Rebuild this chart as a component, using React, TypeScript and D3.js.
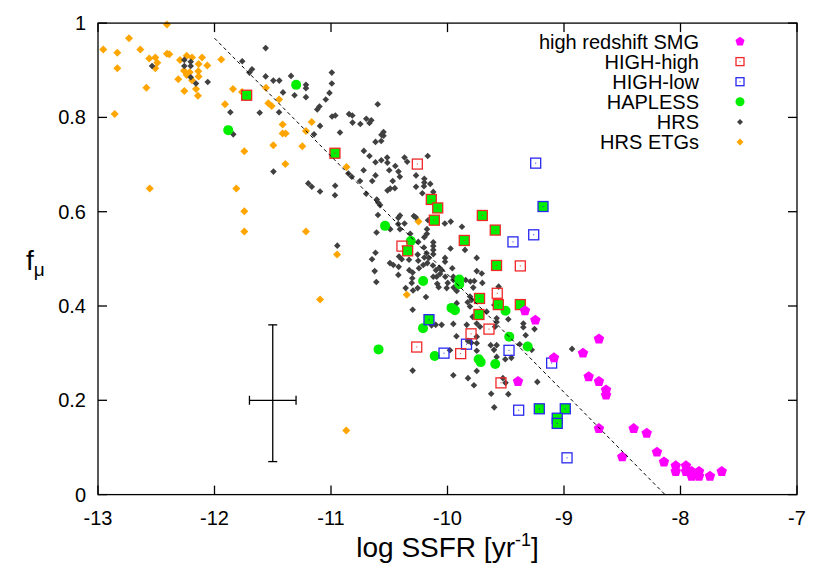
import React from "react";
import * as d3 from "d3";

type P = [number, number];

const xTicks = [-13, -12, -11, -10, -9, -8, -7];
const yTicks = [0, 0.2, 0.4, 0.6, 0.8, 1];
const yTickLabels = ["0", "0.2", "0.4", "0.6", "0.8", "1"];
const legendLabels = ["high redshift SMG", "HIGH-high", "HIGH-low", "HAPLESS", "HRS", "HRS ETGs"];

const fitX = [-12, -8.133];
const fitY = [0.968, 0];

const errCenter: P = [-11.5, 0.2];
const errXRange = [-11.7, -11.3];
const errYRange = [0.07, 0.36];

const smg: P[] = [
  [-9.335, 0.39], [-9.246, 0.37], [-8.7, 0.33], [-8.837, 0.3], [-9.086, 0.29], [-9.395, 0.24],
  [-8.788, 0.25], [-8.7, 0.24], [-8.639, 0.222], [-8.639, 0.211], [-8.7, 0.14], [-8.402, 0.14],
  [-8.29, 0.13], [-8.5, 0.08], [-8.202, 0.09], [-8.142, 0.069], [-8.041, 0.061], [-8.041, 0.049],
  [-7.953, 0.061], [-7.953, 0.049], [-7.904, 0.049], [-7.904, 0.039], [-7.841, 0.049], [-7.841, 0.039],
  [-7.747, 0.039], [-7.646, 0.049],
];

const highHigh: P[] = [
  [-10.259, 0.701], [-10.391, 0.527], [-9.375, 0.485], [-9.573, 0.427], [-9.644, 0.351],
  [-9.798, 0.341], [-9.887, 0.299], [-10.264, 0.313], [-9.541, 0.237],
];

const highLow: P[] = [
  [-9.243, 0.703], [-9.26, 0.551], [-9.438, 0.536], [-9.472, 0.306], [-9.106, 0.279],
  [-9.837, 0.319], [-10.03, 0.3], [-9.389, 0.179], [-8.974, 0.078],
];

const highHighHapless: P[] = [
  [-11.724, 0.847], [-10.966, 0.724], [-10.139, 0.626], [-10.084, 0.608], [-10.113, 0.582],
  [-9.701, 0.592], [-9.59, 0.561], [-9.856, 0.539], [-10.342, 0.517], [-9.579, 0.486],
  [-9.725, 0.416], [-9.564, 0.403], [-9.375, 0.403], [-9.73, 0.382],
];

const highLowHapless: P[] = [
  [-9.18, 0.611], [-10.159, 0.371], [-9.212, 0.182], [-8.989, 0.182], [-9.058, 0.162], [-9.058, 0.151],
];

const hapless: P[] = [
  [-11.882, 0.773], [-11.299, 0.869], [-10.536, 0.57], [-10.315, 0.538], [-10.209, 0.453],
  [-9.899, 0.456], [-9.899, 0.446], [-9.966, 0.396], [-9.936, 0.391], [-9.502, 0.39],
  [-10.21, 0.353], [-10.11, 0.294], [-9.732, 0.287], [-9.715, 0.281], [-9.59, 0.277],
  [-9.47, 0.335], [-9.312, 0.314], [-10.592, 0.308],
];

const hrs: P[] = [
  [-12.536, 0.909], [-12.259, 0.922], [-12.204, 0.918], [-12.259, 0.909], [-12.204, 0.909],
  [-12.204, 0.885], [-12.159, 0.872], [-12.058, 0.875], [-11.561, 0.947], [-11.762, 0.919],
  [-11.678, 0.902], [-11.7, 0.895], [-11.561, 0.887], [-11.495, 0.878], [-11.444, 0.878],
  [-11.343, 0.888], [-11.215, 0.869], [-11.215, 0.862], [-10.993, 0.895], [-10.993, 0.872],
  [-11.412, 0.853], [-11.313, 0.847], [-11.215, 0.843], [-11.013, 0.852], [-11.045, 0.838],
  [-11.099, 0.823], [-11.118, 0.817], [-10.991, 0.802], [-10.963, 0.804], [-11.612, 0.81],
  [-11.446, 0.811], [-11.864, 0.811], [-11.839, 0.764], [-11.094, 0.782], [-11.146, 0.764],
  [-10.923, 0.768], [-11.494, 0.685], [-11.195, 0.66], [-11.165, 0.653], [-11.094, 0.643],
  [-10.964, 0.655], [-10.966, 0.635], [-10.599, 0.828], [-10.845, 0.807], [-10.817, 0.804],
  [-10.815, 0.789], [-10.748, 0.786], [-10.697, 0.797], [-10.654, 0.794], [-10.67, 0.788],
  [-10.549, 0.769], [-10.549, 0.761], [-10.567, 0.763], [-10.618, 0.748], [-10.569, 0.75],
  [-10.718, 0.729], [-10.67, 0.718], [-10.618, 0.705], [-10.568, 0.709], [-10.518, 0.715],
  [-10.516, 0.704], [-10.72, 0.688], [-10.646, 0.665], [-10.618, 0.677], [-10.5, 0.688],
  [-10.448, 0.697], [-10.421, 0.685], [-10.369, 0.715], [-10.346, 0.706], [-10.17, 0.718],
  [-10.47, 0.665], [-10.409, 0.674], [-10.515, 0.645], [-10.492, 0.649], [-10.452, 0.65],
  [-10.27, 0.677], [-10.199, 0.67], [-10.199, 0.662], [-10.202, 0.654], [-10.148, 0.659],
  [-10.27, 0.653], [-10.216, 0.639], [-10.122, 0.642], [-10.851, 0.681], [-10.822, 0.674],
  [-10.751, 0.665], [-10.698, 0.638], [-10.607, 0.626], [-10.594, 0.619], [-10.579, 0.614],
  [-10.408, 0.592], [-10.422, 0.587], [-10.289, 0.591], [-10.597, 0.593], [-10.423, 0.574],
  [-10.408, 0.563], [-10.369, 0.575], [-10.492, 0.563], [-10.609, 0.556], [-10.167, 0.582],
  [-10.023, 0.575], [-9.972, 0.579], [-10.176, 0.563], [-10.177, 0.553], [-10.32, 0.553],
  [-10.199, 0.546], [-10.273, 0.588], [-10.322, 0.541], [-10.251, 0.536], [-10.122, 0.535],
  [-10.122, 0.527], [-10.122, 0.519], [-10.122, 0.51], [-9.974, 0.522], [-9.876, 0.568],
  [-9.85, 0.519], [-10.946, 0.528], [-10.618, 0.513], [-10.648, 0.499], [-10.416, 0.505],
  [-10.393, 0.499], [-10.256, 0.509], [-10.202, 0.524], [-10.251, 0.496], [-10.199, 0.503],
  [-10.173, 0.491], [-10.419, 0.483], [-10.494, 0.491], [-10.465, 0.487], [-10.33, 0.498],
  [-10.245, 0.48], [-10.422, 0.466], [-10.328, 0.476], [-10.299, 0.471], [-10.625, 0.474],
  [-10.611, 0.451], [-10.07, 0.481], [-10.05, 0.476], [-10.161, 0.502], [-10.125, 0.486],
  [-10.021, 0.502], [-10.021, 0.494], [-9.959, 0.48], [-10.064, 0.468], [-10.019, 0.462],
  [-9.95, 0.462], [-9.998, 0.449], [-9.947, 0.439], [-9.921, 0.432], [-10.088, 0.447],
  [-10.076, 0.44], [-9.844, 0.455], [-9.804, 0.452], [-9.77, 0.453], [-9.749, 0.474],
  [-9.706, 0.469], [-9.749, 0.502], [-9.701, 0.449], [-9.561, 0.441], [-10.307, 0.449],
  [-10.185, 0.419], [-10.296, 0.433], [-10.359, 0.438], [-10.256, 0.438], [-10.007, 0.438],
  [-9.807, 0.42], [-9.792, 0.413], [-9.779, 0.439], [-10.302, 0.459], [-10.093, 0.462],
  [-9.921, 0.406], [-9.827, 0.408], [-9.807, 0.399], [-9.784, 0.377], [-9.749, 0.385],
  [-9.664, 0.388], [-9.598, 0.402], [-9.578, 0.374], [-9.578, 0.366], [-9.478, 0.372],
  [-9.349, 0.363], [-9.349, 0.355], [-9.253, 0.351], [-9.329, 0.338], [-9.38, 0.319],
  [-9.277, 0.307], [-9.504, 0.287], [-9.452, 0.29], [-8.931, 0.309], [-9.229, 0.239],
  [-10.101, 0.36], [-10.05, 0.36], [-9.95, 0.362], [-9.749, 0.363], [-9.923, 0.336],
  [-9.749, 0.335], [-9.749, 0.321], [-9.749, 0.305], [-9.979, 0.306], [-9.629, 0.317],
  [-9.578, 0.317], [-9.601, 0.307], [-9.578, 0.292], [-9.835, 0.36], [-9.721, 0.356],
  [-9.592, 0.356], [-9.824, 0.326], [-9.796, 0.322], [-10.299, 0.392], [-10.299, 0.263],
  [-9.95, 0.253], [-9.824, 0.247], [-9.773, 0.232], [-9.749, 0.262], [-9.625, 0.214],
  [-9.599, 0.185], [-9.478, 0.213], [-9.524, 0.247], [-9.502, 0.237], [-10.179, 0.512],
  [-10.099, 0.476], [-9.95, 0.455], [-10.122, 0.462], [-10.208, 0.487], [-10.137, 0.359],
];

const hrsEtg: P[] = [
  [-12.408, 0.997], [-12.734, 0.968], [-12.955, 0.944], [-12.834, 0.937], [-12.637, 0.944],
  [-12.834, 0.904], [-12.56, 0.925], [-12.508, 0.927], [-12.491, 0.916], [-12.508, 0.904],
  [-12.408, 0.935], [-12.388, 0.934], [-12.585, 0.863], [-12.857, 0.807], [-12.556, 0.649],
  [-12.296, 0.922], [-12.239, 0.931], [-12.193, 0.927], [-12.107, 0.927], [-12.136, 0.913],
  [-12.062, 0.91], [-12.262, 0.899], [-12.213, 0.896], [-12.139, 0.898], [-12.239, 0.89],
  [-12.136, 0.887], [-12.311, 0.881], [-12.193, 0.879], [-12.159, 0.86], [-12.259, 0.856],
  [-12.142, 0.846], [-11.942, 0.923], [-11.841, 0.86], [-11.91, 0.828], [-11.764, 0.854],
  [-11.558, 0.863], [-11.538, 0.83], [-11.509, 0.824], [-11.446, 0.838], [-11.415, 0.785],
  [-11.415, 0.766], [-11.389, 0.766], [-11.166, 0.79], [-11.215, 0.771], [-11.495, 0.741],
  [-11.246, 0.739], [-11.744, 0.728], [-11.392, 0.701], [-10.867, 0.695], [-11.813, 0.649],
  [-11.744, 0.601], [-11.744, 0.558], [-11.215, 0.558], [-10.948, 0.509], [-11.094, 0.414],
  [-10.869, 0.136], [-10.249, 0.579], [-10.35, 0.424],
];

const C_SMG = "#ff00ff";
const C_RED = "#f02828";
const C_BLUE = "#2828f0";
const C_GREEN = "#00ee00";
const C_HRS = "#404040";
const C_ETG = "#ffa500";

const diamond = (r: number) => `M0,${-r}L${r},0L0,${r}L${-r},0Z`;
const pentagon = (r: number) =>
  d3.range(5).map((k) => {
    const a = ((-90 + 72 * k) * Math.PI) / 180;
    return `${k === 0 ? "M" : "L"}${(r * Math.cos(a)).toFixed(2)},${(r * Math.sin(a)).toFixed(2)}`;
  }).join("") + "Z";

export default function App() {
  const W = 830, H = 580;
  const left = 98, right = 797, top = 23.1, bottom = 494.6;
  const x = d3.scaleLinear().domain([-13, -7]).range([left, right]);
  const y = d3.scaleLinear().domain([0, 1]).range([bottom, top]);
  const font = "'Liberation Sans', Arial, Helvetica, sans-serif";
  const tick = 9;

  const lineGen = d3.line<number>().x((_, i) => x(fitX[i])).y((_, i) => y(fitY[i]));

  const openSquare = (p: P, i: number, color: string, s = 10) => (
    <g key={i} transform={`translate(${x(p[0])},${y(p[1])})`}>
      <rect x={-s / 2} y={-s / 2} width={s} height={s} fill="none" stroke={color} strokeWidth={1.3} />
      <rect x={-0.5} y={-0.5} width={1} height={1} fill={color} />
    </g>
  );
  const greenSquare = (p: P, i: number, color: string, s = 10) => (
    <g key={i} transform={`translate(${x(p[0])},${y(p[1])})`}>
      <rect x={-s / 2} y={-s / 2} width={s} height={s} fill={C_GREEN} stroke={color} strokeWidth={1.3} />
      <rect x={-0.5} y={-0.5} width={1} height={1} fill={color} />
    </g>
  );

  const legendY = (i: number) => 41.5 + i * 20.1;
  const legX = 740;

  return (
    <div style={{ position: "absolute", left: 0, top: 0 }}>
      <svg width={W} height={H} style={{ display: "block", background: "#fff" }} fontFamily={font}>
        <rect width={W} height={H} fill="#fff" />
        {/* markers */}
        <g>
          {hrsEtg.map((p, i) => (
            <path key={i} d={diamond(4)} transform={`translate(${x(p[0])},${y(p[1])})`} fill={C_ETG} />
          ))}
        </g>
        <g>
          {hrs.map((p, i) => (
            <path key={i} d={diamond(3.3)} transform={`translate(${x(p[0])},${y(p[1])})`} fill={C_HRS} />
          ))}
        </g>
        <g>
          {hapless.map((p, i) => (
            <circle key={i} cx={x(p[0])} cy={y(p[1])} r={5} fill={C_GREEN} />
          ))}
        </g>
        <g>{highLow.map((p, i) => openSquare(p, i, C_BLUE))}</g>
        <g>{highHigh.map((p, i) => openSquare(p, i, C_RED))}</g>
        <g>{highHighHapless.map((p, i) => greenSquare(p, i, C_RED))}</g>
        <g>{highLowHapless.map((p, i) => greenSquare(p, i, C_BLUE))}</g>
        <g>
          {smg.map((p, i) => (
            <path key={i} d={pentagon(5.5)} transform={`translate(${x(p[0])},${y(p[1])})`} fill={C_SMG} />
          ))}
        </g>

        {/* fit line */}
        <path d={lineGen([0, 1]) || ""} fill="none" stroke="#000" strokeWidth={1} strokeDasharray="3.5,3" />

        {/* error bar */}
        <g stroke="#000" strokeWidth={1.3}>
          <line x1={x(errCenter[0])} x2={x(errCenter[0])} y1={y(errYRange[0])} y2={y(errYRange[1])} />
          <line x1={x(errCenter[0]) - 4.5} x2={x(errCenter[0]) + 4.5} y1={y(errYRange[0])} y2={y(errYRange[0])} />
          <line x1={x(errCenter[0]) - 4.5} x2={x(errCenter[0]) + 4.5} y1={y(errYRange[1])} y2={y(errYRange[1])} />
          <line x1={x(errXRange[0])} x2={x(errXRange[1])} y1={y(errCenter[1])} y2={y(errCenter[1])} />
          <line x1={x(errXRange[0])} x2={x(errXRange[0])} y1={y(errCenter[1]) - 4.5} y2={y(errCenter[1]) + 4.5} />
          <line x1={x(errXRange[1])} x2={x(errXRange[1])} y1={y(errCenter[1]) - 4.5} y2={y(errCenter[1]) + 4.5} />
        </g>

        {/* frame and ticks */}
        <rect x={left} y={top} width={right - left} height={bottom - top} fill="none" stroke="#000" strokeWidth={1.3} />
        <g stroke="#000" strokeWidth={1.3}>
          {xTicks.map((t, i) => (
            <g key={i}>
              <line x1={x(t)} x2={x(t)} y1={bottom} y2={bottom - tick} />
              <line x1={x(t)} x2={x(t)} y1={top} y2={top + tick} />
            </g>
          ))}
          {yTicks.map((t, i) => (
            <g key={i}>
              <line x1={left} x2={left + tick} y1={y(t)} y2={y(t)} />
              <line x1={right} x2={right - tick} y1={y(t)} y2={y(t)} />
            </g>
          ))}
        </g>
        <g fontSize={20} fill="#000">
          {xTicks.map((t, i) => (
            <text key={i} x={x(t)} y={bottom + 30} textAnchor="middle">{String(t)}</text>
          ))}
          {yTicks.map((t, i) => (
            <text key={i} x={left - 12} y={y(t) + 7} textAnchor="end">{yTickLabels[i]}</text>
          ))}
        </g>

        {/* axis titles */}
        <text x={x(-10)} y={557} textAnchor="middle" fontSize={28} fill="#000">
          log SSFR [yr<tspan dy={-11} fontSize={18}>-1</tspan><tspan dy={11}>]</tspan>
        </text>
        <text x={26} y={270} fontSize={28} fill="#000">
          f<tspan dy={6} fontSize={19}>μ</tspan>
        </text>

        {/* legend */}
        <g fontSize={20} fill="#000">
          {legendLabels.map((l, i) => (
            <text key={i} x={699} y={legendY(i) + 7} textAnchor="end">{l}</text>
          ))}
        </g>
        <path d={pentagon(4.8)} transform={`translate(${legX},${legendY(0)})`} fill={C_SMG} />
        {openSquare([x.invert(legX), y.invert(legendY(1))], 1, C_RED, 8)}
        {openSquare([x.invert(legX), y.invert(legendY(2))], 2, C_BLUE, 8)}
        <circle cx={legX} cy={legendY(3)} r={4.5} fill={C_GREEN} />
        <path d={diamond(3)} transform={`translate(${legX},${legendY(4)})`} fill={C_HRS} />
        <path d={diamond(3.5)} transform={`translate(${legX},${legendY(5)})`} fill={C_ETG} />
      </svg>
    </div>
  );
}
